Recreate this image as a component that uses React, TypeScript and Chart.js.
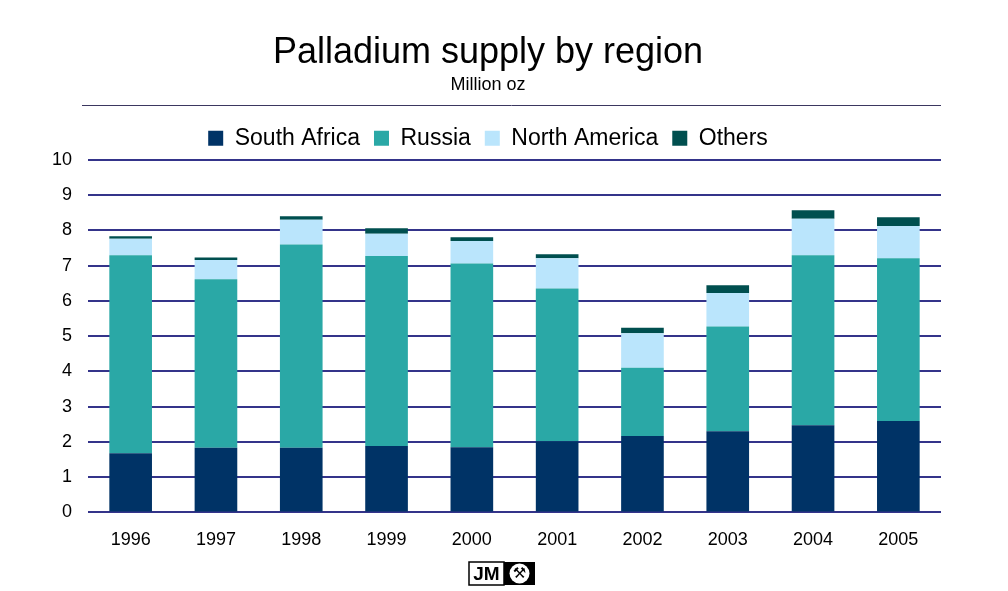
import React, { useEffect, useRef } from 'react';
import Chart from 'chart.js/auto';

const years = ['1996', '1997', '1998', '1999', '2000', '2001', '2002', '2003', '2004', '2005'];

// million oz
const southAfrica = [1.68, 1.83, 1.83, 1.88, 1.85, 2.02, 2.17, 2.3, 2.47, 2.59];
const russia = [5.61, 4.78, 5.77, 5.39, 5.21, 4.33, 1.93, 2.97, 4.82, 4.62];
const northAmerica = [0.47, 0.55, 0.7, 0.63, 0.64, 0.86, 0.98, 0.95, 1.04, 0.91];
const others = [0.07, 0.07, 0.1, 0.16, 0.1, 0.11, 0.16, 0.22, 0.24, 0.25];

const FONT = '"Liberation Sans", Arial, sans-serif';

// separator under the subtitle and the JM mark at the bottom
const decorations = {
  id: 'decorations',
  afterDraw(chart: Chart) {
    const { ctx, chartArea } = chart;
    ctx.save();
    ctx.strokeStyle = '#3b3760';
    ctx.lineWidth = 1;
    ctx.beginPath();
    ctx.moveTo(82, 105.5);
    ctx.lineTo(chartArea.right, 105.5);
    ctx.stroke();

    const cx = chart.width / 2;
    const top = 562;
    const h = 23;
    // JM box
    ctx.fillStyle = '#fff';
    ctx.fillRect(cx - 35, top, 35, h);
    ctx.strokeStyle = '#000';
    ctx.lineWidth = 1.5;
    ctx.strokeRect(cx - 35, top, 35, h);
    ctx.fillStyle = '#000';
    ctx.font = `bold 19px ${FONT}`;
    ctx.textAlign = 'center';
    ctx.textBaseline = 'middle';
    ctx.fillText('JM', cx - 17.5, top + h / 2 + 1);
    // hammers box
    ctx.fillRect(cx, top, 31, h);
    ctx.fillStyle = '#fff';
    ctx.beginPath();
    ctx.arc(cx + 15.5, top + h / 2, 10, 0, Math.PI * 2);
    ctx.fill();
    ctx.fillStyle = '#000';
    ctx.font = '15px "DejaVu Sans"';
    ctx.fillText('\u2692', cx + 15.5, top + h / 2 + 1);
    ctx.restore();
  },
};

const App: React.FC = () => {
  const canvasRef = useRef<HTMLCanvasElement | null>(null);
  const chartRef = useRef<Chart | null>(null);

  useEffect(() => {
    if (!canvasRef.current) return;
    if (chartRef.current) chartRef.current.destroy();

    chartRef.current = new Chart(canvasRef.current, {
      type: 'bar',
      data: {
        labels: years,
        datasets: [
          { label: 'South Africa', data: southAfrica, backgroundColor: '#003366' },
          { label: 'Russia', data: russia, backgroundColor: '#2aa8a6' },
          { label: 'North America', data: northAmerica, backgroundColor: '#bae5fc' },
          { label: 'Others', data: others, backgroundColor: '#004f4f' },
        ],
      },
      options: {
        responsive: false,
        animation: false,
        layout: { padding: { left: 35, right: 67, top: 0, bottom: 23 } },
        datasets: {
          bar: { barPercentage: 0.5, categoryPercentage: 1 },
        },
        plugins: {
          title: {
            display: true,
            text: 'Palladium supply by region',
            color: '#000',
            font: { family: FONT, size: 36, weight: 'normal', lineHeight: 1.2 },
            padding: { top: 31, bottom: 0 },
          },
          subtitle: {
            display: true,
            text: 'Million oz',
            color: '#000',
            font: { family: FONT, size: 18, lineHeight: 1.2 },
            padding: { top: 0, bottom: 17 },
          },
          legend: {
            position: 'top',
            labels: {
              color: '#000',
              font: { family: FONT, size: 23 },
              boxWidth: 15,
              boxHeight: 15,
              padding: 14,
            },
          },
          tooltip: { enabled: false },
        },
        scales: {
          x: {
            stacked: true,
            grid: { display: false, drawTicks: false },
            border: { display: false },
            ticks: { color: '#000', font: { family: FONT, size: 18 }, padding: 17 },
          },
          y: {
            stacked: true,
            min: 0,
            max: 10,
            afterFit: (scale) => {
              scale.width = 53;
            },
            grid: { color: '#34348a', lineWidth: 2, drawTicks: false },
            border: { display: false },
            ticks: { stepSize: 1, color: '#000', font: { family: FONT, size: 18 }, padding: 16 },
          },
        },
      },
      plugins: [decorations],
    });

    return () => {
      if (chartRef.current) {
        chartRef.current.destroy();
        chartRef.current = null;
      }
    };
  }, []);

  return (
    <div style={{ position: 'absolute', left: 0, top: 0, width: 1008, height: 591, background: '#fff' }}>
      <canvas ref={canvasRef} width={1008} height={591}></canvas>
    </div>
  );
};

export default App;
